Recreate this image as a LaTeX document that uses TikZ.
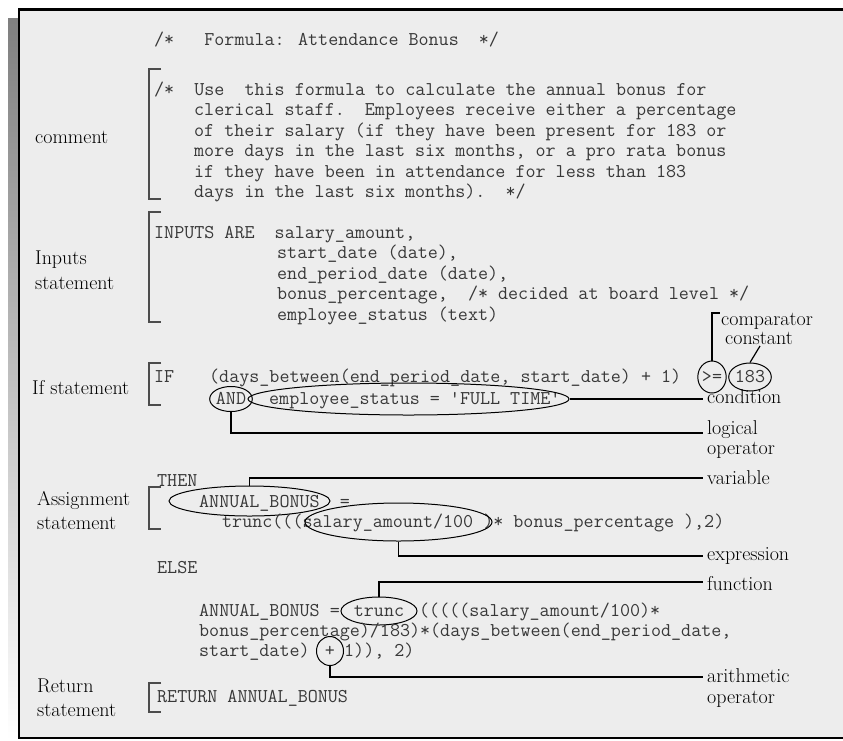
\documentclass[tikz,border=0pt]{standalone}
\usepackage{fontspec}
\usetikzlibrary{shapes.geometric}
\definecolor{panel}{HTML}{EDEDED}
\definecolor{shade}{HTML}{8A8A8A}
\newcommand\cdfont{\ttfamily\fontsize{19.5}{20.5}\selectfont}
\newcommand\lbfont{\fontsize{20}{24}\selectfont}

\begin{document}
\begin{tikzpicture}
  [
    x=1pt, y=-1pt,
    code text/.style={anchor=base west, inner sep=0pt, font=\cdfont, text=black!78},
    label text/.style={anchor=base west, inner sep=0pt, font=\lbfont},
    mark oval/.style={draw, ellipse, inner sep=0pt, line width=1pt, font=\cdfont,
      text=black!78, text height=10pt, text depth=0pt},
    bracket line/.style={line width=1.2pt, black!70},
    pointer/.style={line width=1.2pt},
  ]
  \useasboundingbox (0,0) rectangle (843,740);

  \fill[shade] (8,18) rectangle (19,740);
  \filldraw[fill=panel, line width=2pt] (19,9) rectangle (860,738);
  \draw[line width=3pt] (19,9) -- (860,9);

  \foreach \t/\b in {69/199, 212/322, 363/405, 487/529, 683/712}
    \draw[bracket line] (161,\t) -| (149,\b) -- (161,\b);

  \node(title)[code text] at (154,45) {/*~~~Formula: Attendance Bonus~~*/};

  \node(c1)[code text] at (154,95) {/*~~Use~~this formula to calculate the annual bonus for};
  \node(c2)[code text] at (194,115.5) {clerical staff.~~Employees receive either a percentage};
  \node(c3)[code text] at (194,136) {of their salary (if they have been present for 183 or};
  \node(c4)[code text] at (194,156.5) {more days in the last six months, or a pro rata bonus};
  \node(c5)[code text] at (194,177) {if they have been in attendance for less than 183};
  \node(c6)[code text] at (194,197.5) {days in the last six months).~~*/};

  \node(i1)[code text] at (154,238) {INPUTS ARE~~salary\_amount,};
  \node(i2)[code text] at (277,258.5) {start\_date (date),};
  \node(i3)[code text] at (277,279) {end\_period\_date (date),};
  \node(i4)[code text] at (277,299.5) {bonus\_percentage,~~/* decided at board level */};
  \node(i5)[code text] at (277,320) {employee\_status (text)};

  \node(if1)[code text] at (154,382) {IF};
  \node(if2)[code text] at (209,382) {(days\_between(end\_period\_date, start\_date) + 1)};
  \node(cmp)[mark oval, minimum width=27, minimum height=32] at (712,377) {>=};
  \node(cst)[mark oval, minimum width=36, minimum height=28] at (750,377) {183};
  \node(andop)[mark oval, minimum width=40, minimum height=25] at (231,399) {AND};
  \node(if3)[code text] at (269,404) {employee\_status = 'FULL TIME'};
  \node(cond)[mark oval, minimum width=321, minimum height=32] at (408.5,399) {};

  \node(then)[code text] at (157,486) {THEN};
  \node(a1)[code text] at (199,507) {ANNUAL\_BONUS~~=};
  \node(var)[mark oval, minimum width=161, minimum height=30] at (249.5,501) {};
  \node(a2)[code text] at (222,527) {trunc(((salary\_amount/100 )* bonus\_percentage ),2)};
  \node(expr)[mark oval, minimum width=187, minimum height=38] at (398.5,522) {};

  \node(else)[code text] at (157,573) {ELSE};
  \node(e1)[code text] at (199,616) {ANNUAL\_BONUS =};
  \node(fun)[mark oval, minimum width=76, minimum height=28] at (379,611) {trunc};
  \node(e2)[code text] at (419,616) {(((((salary\_amount/100)*};
  \node(e3)[code text] at (199,636) {bonus\_percentage)/183)*(days\_between(end\_period\_date,};
  \node(e4)[code text] at (199,656) {start\_date)};
  \node(plus)[mark oval, minimum width=27, minimum height=29] at (330,651) {+};
  \node(e5)[code text] at (344,656) {1)), 2)};

  \node(ret)[code text] at (157,702) {RETURN ANNUAL\_BONUS};

  \node(lcom)[label text] at (35,143) {comment};
  \node(linp)[label text] at (35,264) {Inputs};
  \node(linp2)[label text] at (35,289) {statement};
  \node(lif)[label text] at (32,394) {If statement};
  \node(lasg)[label text] at (37,505) {Assignment};
  \node(lasg2)[label text] at (37,529) {statement};
  \node(lret)[label text] at (37,692) {Return};
  \node(lret2)[label text] at (37,716) {statement};

  \node(lcmp)[label text] at (721,325) {comparator};
  \node(lcst)[label text] at (725,344) {constant};
  \node(lcond)[label text] at (707,403) {condition};
  \node(llog)[label text] at (707,434) {logical};
  \node(llog2)[label text] at (707,454) {operator};
  \node(lvar)[label text] at (707,484) {variable};
  \node(lexp)[label text] at (707,560) {expression};
  \node(lfun)[label text] at (707,590) {function};
  \node(lari)[label text] at (707,682) {arithmetic};
  \node(lari2)[label text] at (707,703) {operator};

  \coordinate(cmp-end) at (720,313);
  \coordinate(cst-end) at (760,346);
  \coordinate(cond-end) at (703,399);
  \coordinate(log-end) at (703,433);
  \coordinate(var-end) at (703,478);
  \coordinate(exp-end) at (703,556);
  \coordinate(fun-end) at (703,582);
  \coordinate(ari-end) at (703,677);

  \draw[pointer] (cmp.north) |- (cmp-end);
  \draw[pointer] (cst.north) -- (cst-end);
  \draw[pointer] (cond.east) -- (cond-end);
  \draw[pointer] (andop.south) |- (log-end);
  \draw[pointer] (var.north) |- (var-end);
  \draw[pointer] (expr.south) |- (exp-end);
  \draw[pointer] (fun.north) |- (fun-end);
  \draw[pointer] (plus.south) |- (ari-end);

\end{tikzpicture}
\end{document}
